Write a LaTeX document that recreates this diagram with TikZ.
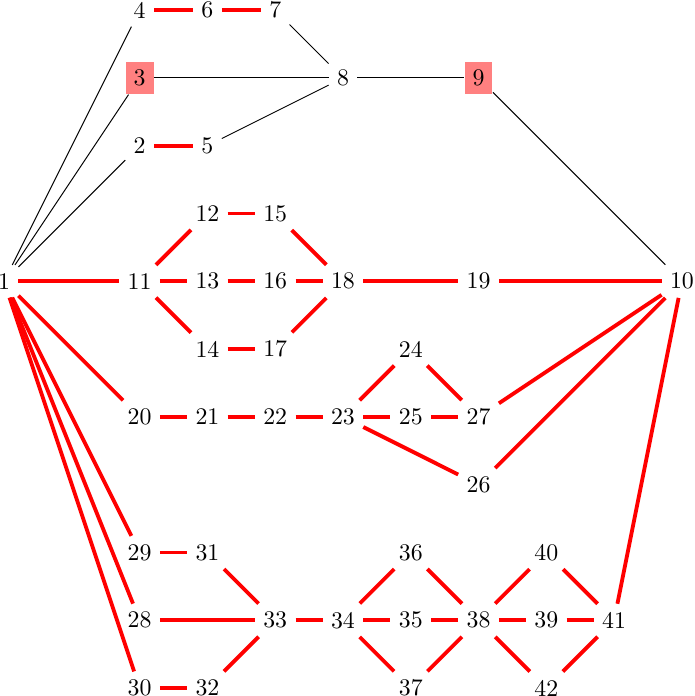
\documentclass[tikz,border=0pt]{standalone}
\begin{document}
\begin{tikzpicture}[hub/.style={fill=red!50}, redge/.style={red, line width=1.6pt}, bedge/.style={black, thin}]
\useasboundingbox (-0.06,-10.118) rectangle (10.19,0.15);
\node (n1) at (0,-4) {1};
\node (n2) at (2,-2) {2};
\node[hub] (n3) at (2,-1) {3};
\node (n4) at (2,0) {4};
\node (n5) at (3,-2) {5};
\node (n6) at (3,0) {6};
\node (n7) at (4,0) {7};
\node (n8) at (5,-1) {8};
\node[hub] (n9) at (7,-1) {9};
\node (n10) at (10,-4) {10};
\node (n11) at (2,-4) {11};
\node (n12) at (3,-3) {12};
\node (n13) at (3,-4) {13};
\node (n14) at (3,-5) {14};
\node (n15) at (4,-3) {15};
\node (n16) at (4,-4) {16};
\node (n17) at (4,-5) {17};
\node (n18) at (5,-4) {18};
\node (n19) at (7,-4) {19};
\node (n20) at (2,-6) {20};
\node (n21) at (3,-6) {21};
\node (n22) at (4,-6) {22};
\node (n23) at (5,-6) {23};
\node (n24) at (6,-5) {24};
\node (n25) at (6,-6) {25};
\node (n26) at (7,-7) {26};
\node (n27) at (7,-6) {27};
\node (n28) at (2,-9) {28};
\node (n29) at (2,-8) {29};
\node (n30) at (2,-10) {30};
\node (n31) at (3,-8) {31};
\node (n32) at (3,-10) {32};
\node (n33) at (4,-9) {33};
\node (n34) at (5,-9) {34};
\node (n35) at (6,-9) {35};
\node (n36) at (6,-8) {36};
\node (n37) at (6,-10) {37};
\node (n38) at (7,-9) {38};
\node (n39) at (8,-9) {39};
\node (n40) at (8,-8) {40};
\node (n41) at (9,-9) {41};
\node (n42) at (8,-10) {42};
% thin links
\draw[bedge] (n1) -- (n4);
\draw[bedge] (n1) -- (n3);
\draw[bedge] (n1) -- (n2);
\draw[bedge] (n3) -- (n8);
\draw[bedge] (n7) -- (n8);
\draw[bedge] (n5) -- (n8);
\draw[bedge] (n8) -- (n9);
\draw[bedge] (n9) -- (n10);
% thick links
\draw[redge] (n4) -- (n6);
\draw[redge] (n6) -- (n7);
\draw[redge] (n2) -- (n5);
\draw[redge] (n1) -- (n11);
\draw[redge] (n11) -- (n12);
\draw[redge] (n11) -- (n13);
\draw[redge] (n11) -- (n14);
\draw[redge] (n12) -- (n15);
\draw[redge] (n13) -- (n16);
\draw[redge] (n14) -- (n17);
\draw[redge] (n15) -- (n18);
\draw[redge] (n16) -- (n18);
\draw[redge] (n17) -- (n18);
\draw[redge] (n18) -- (n19);
\draw[redge] (n19) -- (n10);
\draw[redge] (n1) -- (n20);
\draw[redge] (n20) -- (n21);
\draw[redge] (n21) -- (n22);
\draw[redge] (n22) -- (n23);
\draw[redge] (n23) -- (n24);
\draw[redge] (n23) -- (n25);
\draw[redge] (n23) -- (n26);
\draw[redge] (n24) -- (n27);
\draw[redge] (n25) -- (n27);
\draw[redge] (n27) -- (n10);
\draw[redge] (n26) -- (n10);
\draw[redge] (n1) -- (n29);
\draw[redge] (n1) -- (n28);
\draw[redge] (n1) -- (n30);
\draw[redge] (n29) -- (n31);
\draw[redge] (n28) -- (n33);
\draw[redge] (n30) -- (n32);
\draw[redge] (n31) -- (n33);
\draw[redge] (n32) -- (n33);
\draw[redge] (n33) -- (n34);
\draw[redge] (n34) -- (n36);
\draw[redge] (n34) -- (n35);
\draw[redge] (n34) -- (n37);
\draw[redge] (n36) -- (n38);
\draw[redge] (n35) -- (n38);
\draw[redge] (n37) -- (n38);
\draw[redge] (n38) -- (n40);
\draw[redge] (n38) -- (n39);
\draw[redge] (n38) -- (n42);
\draw[redge] (n40) -- (n41);
\draw[redge] (n39) -- (n41);
\draw[redge] (n42) -- (n41);
\draw[redge] (n41) -- (n10);
\end{tikzpicture}
\end{document}
